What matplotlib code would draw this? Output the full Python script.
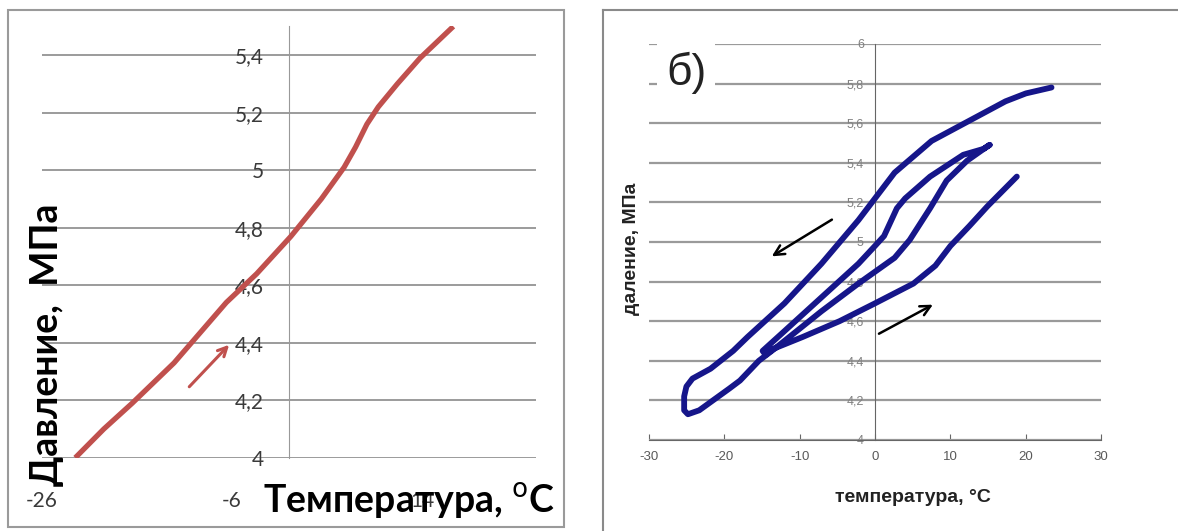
import matplotlib
matplotlib.use("Agg")
import matplotlib.pyplot as plt
from matplotlib.ticker import FuncFormatter
from matplotlib.lines import Line2D

plt.rcParams["axes.unicode_minus"] = False

# left panel: pressure vs temperature, one heating run
temp_a = [-22.5, -19.5, -16.5, -12.1, -6.6, -3.4, 0.2, 3.4, 5.8, 7.0, 8.2, 9.4, 11.4, 13.8, 17.3]
press_a = [4.00, 4.10, 4.19, 4.33, 4.54, 4.64, 4.77, 4.90, 5.01, 5.08, 5.16, 5.22, 5.30, 5.39, 5.50]
arrow_a = [(-10.7, 4.24), (-6.1, 4.40)]
xticks_a = [-26, -6, 14]
yticks_a = [4.0, 4.2, 4.4, 4.6, 4.8, 5.0, 5.2, 5.4]

# right panel б): cooling / heating loop
temp_b = [23.4, 20.0, 17.3, 12.4, 7.5, 2.6, 0.0, -2.2, -7.1, -12.0, -16.9, -18.8, -21.8,
          -24.2, -25.0, -25.3, -25.3, -24.8, -23.3, -19.3, -17.9, -15.4, -13.0,
          -7.1, -2.2, 2.6, 4.6, 7.3, 9.5, 12.2, 14.8, 15.2,
          14.4, 11.7, 7.3, 4.0, 2.9, 1.2, 0.0, -2.2, -7.1, -12.0, -14.9, -14.5,
          -13.5, -9.6, -4.7, 0.0, 5.1, 8.0, 10.0, 12.5, 14.9, 18.8]
press_b = [5.78, 5.75, 5.71, 5.61, 5.51, 5.35, 5.22, 5.11, 4.89, 4.69, 4.52, 4.45, 4.36,
           4.31, 4.27, 4.22, 4.15, 4.13, 4.15, 4.26, 4.30, 4.40, 4.47,
           4.65, 4.79, 4.92, 5.01, 5.17, 5.31, 5.41, 5.48, 5.49,
           5.47, 5.44, 5.33, 5.22, 5.17, 5.03, 4.98, 4.89, 4.72, 4.55, 4.45, 4.43,
           4.46, 4.52, 4.60, 4.69, 4.79, 4.88, 4.98, 5.08, 5.18, 5.33]
arrow_cool = [(-5.4, 5.12), (-14.0, 4.92)]
arrow_heat = [(0.2, 4.53), (8.0, 4.69)]
xticks_b = [-30, -20, -10, 0, 10, 20, 30]
yticks_b = [4.0, 4.2, 4.4, 4.6, 4.8, 5.0, 5.2, 5.4, 5.6, 5.8, 6.0]

W, H = 1178, 531
comma = FuncFormatter(lambda v, _: f"{v:g}".replace(".", ","))


def box(x0, y_top, x1, y_bot):
    # pixel rectangle (top-left origin) -> figure fraction
    return [x0 / W, 1 - y_bot / H, (x1 - x0) / W, (y_bot - y_top) / H]


fig = plt.figure(figsize=(W / 100, H / 100), dpi=100)

# ---- left panel ----
ax = fig.add_axes(box(42, 26.4, 536, 457.8))
ax.plot(temp_a, press_a, color="#C0504D", lw=3.8, solid_capstyle="butt",
        solid_joinstyle="round", zorder=3)
ax.annotate("", xy=arrow_a[1], xytext=arrow_a[0],
            arrowprops=dict(arrowstyle="->", color="#C0504D", lw=2.2, mutation_scale=16))
ax.set_xlim(-26, 26)
ax.set_ylim(4, 5.5)
ax.set_xticks(xticks_a)
ax.set_yticks(yticks_a)
ax.xaxis.set_major_formatter(comma)
ax.yaxis.set_major_formatter(comma)
for s in ["top", "right", "bottom"]:
    ax.spines[s].set_visible(False)
ax.spines["left"].set_position(("data", 0))
ax.spines["left"].set_color("#999999")
ax.grid(axis="y", color="#8a8a8a", lw=1.2)
ax.set_axisbelow(True)
ax.tick_params(axis="y", length=0, pad=18, labelsize=15, labelcolor="#3a3a3a")
ax.tick_params(axis="x", length=0, pad=24, labelsize=15, labelcolor="#3a3a3a")
for lab in ax.get_xticklabels() + ax.get_yticklabels():
    lab.set_fontfamily("Lato")

fig.text(47 / W, 1 - 345 / H, "Давление,  МПа", rotation=90, ha="center", va="center",
         fontsize=27, family="Lato", fontweight="bold", color="black")
fig.text(409 / W, 1 - 513 / H, r"Температура, $^{\rm o}$C", ha="center", va="baseline",
         fontsize=27, family="Lato", fontweight="bold", color="black")

fig.add_artist(plt.Rectangle((8 / W, 1 - 527 / H), (564 - 8) / W, (527 - 10) / H,
                             transform=fig.transFigure, fill=False, ec="#9a9a9a", lw=1.5))

# ---- right panel ----
bx = fig.add_axes(box(648.7, 43.9, 1101.3, 440))
bx.plot(temp_b, press_b, color="#16168a", lw=4.2, solid_joinstyle="round",
        solid_capstyle="round", zorder=3)
for a in (arrow_cool, arrow_heat):
    bx.annotate("", xy=a[1], xytext=a[0],
                arrowprops=dict(arrowstyle="->", color="black", lw=1.8, mutation_scale=18))
bx.set_xlim(-30, 30)
bx.set_ylim(4, 6)
bx.set_xticks(xticks_b)
bx.set_yticks(yticks_b)
bx.yaxis.set_major_formatter(comma)
bx.xaxis.set_major_formatter(comma)
for s in ["top", "right"]:
    bx.spines[s].set_visible(False)
bx.spines["left"].set_position(("data", 0))
bx.spines["left"].set_color("#666666")
bx.spines["bottom"].set_color("#666666")
bx.grid(axis="y", color="#9a9a9a", lw=1.6)
bx.set_axisbelow(True)
bx.tick_params(axis="y", length=0, pad=8, labelsize=9, labelcolor="#808080")
bx.tick_params(axis="x", direction="in", length=4, color="#666666", pad=8,
               labelsize=9.5, labelcolor="#595959")
for lab in bx.get_xticklabels() + bx.get_yticklabels():
    lab.set_fontfamily("Liberation Sans")

fig.text(631 / W, 1 - 249 / H, "даление, МПа", rotation=90, ha="center", va="center",
         fontsize=14, family="Liberation Sans", fontweight="bold", color="#222222")
fig.text(913 / W, 1 - 498 / H, "температура, °C", ha="center", va="center",
         fontsize=14, family="Liberation Sans", fontweight="bold", color="#222222")
fig.text(686 / W, 1 - 72.6 / H, "б)", ha="center", va="center", fontsize=32,
         family="Liberation Sans", color="#222222",
         bbox=dict(boxstyle="square,pad=0.2", fc="white", ec="none"))

fig.add_artist(Line2D([603 / W, 603 / W], [0, 1 - 10 / H], transform=fig.transFigure,
                      color="#8a8a8a", lw=1.5))
fig.add_artist(Line2D([603 / W, 1], [1 - 10 / H, 1 - 10 / H], transform=fig.transFigure,
                      color="#8a8a8a", lw=1.5))

fig.savefig("out.png", dpi=100)
